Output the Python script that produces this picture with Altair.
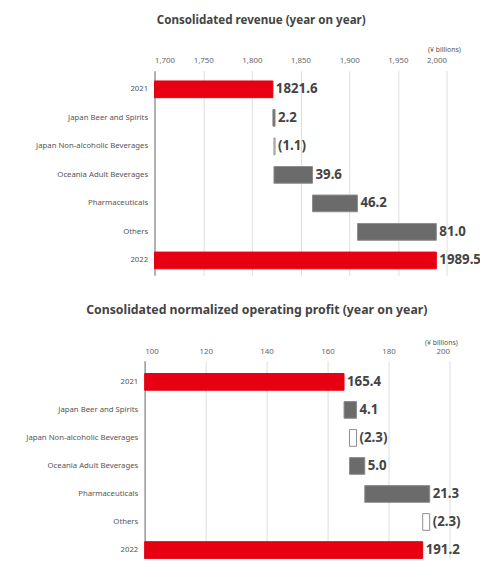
import altair as alt
import pandas as pd

categories = ["2021", "Japan Beer and Spirits", "Japan Non-alcoholic Beverages",
              "Oceania Adult Beverages", "Pharmaceuticals", "Others", "2022"]
rev_values = [1821.6, 2.2, -1.1, 39.6, 46.2, 81.0, 1989.5]
rev_labels = ["1821.6", "2.2", "(1.1)", "39.6", "46.2", "81.0", "1989.5"]
op_values = [165.4, 4.1, -2.3, 5.0, 21.3, -2.3, 191.2]
op_labels = ["165.4", "4.1", "(2.3)", "5.0", "21.3", "(2.3)", "191.2"]
rev_ticks = [1700, 1750, 1800, 1850, 1900, 1950, 2000]
op_ticks = [100, 120, 140, 160, 180, 200]

FONT = "Noto Sans"


def waterfall_df(values, labels, base):
    rows = []
    running = 0.0
    n = len(values)
    for i, (c, v, l) in enumerate(zip(categories, values, labels)):
        if i == 0 or i == n - 1:
            start, end, kind = base, v, "total"
            running = v
        else:
            start = running
            end = running + v
            running = end
            kind = "up" if v >= 0 else "down"
        rows.append(dict(cat=c, start=start, end=end, kind=kind, label=l, lx=max(start, end)))
    return pd.DataFrame(rows)


def panel(df, title, title_size, domain, ticks, width, x_range, height, yscale,
          y_offset, min_extent, unit_x, unit_y, label_pad, title_dx, title_offset, clip):
    yaxis = alt.Axis(labelFontSize=7.9, labelColor="#555", labelFont=FONT, ticks=False,
                     domainColor="#9a9a9a", domainWidth=1.5, labelPadding=7,
                     offset=y_offset, minExtent=min_extent, grid=False, labelLimit=300)
    xaxis = alt.Axis(orient="top", values=ticks, labelExpr="format(datum.value, ',')",
                     domain=False, ticks=False,
                     grid=True, gridColor="#dddddd", gridWidth=1,
                     labelFontSize=8, labelColor="#666", labelFont=FONT,
                     labelPadding=label_pad,
                     titleFontSize=7, titleFont=FONT, titleFontWeight="normal",
                     titleColor="#555", titleX=unit_x, titleY=unit_y,
                     titleAlign="right", titleBaseline="alphabetic", titleAngle=0)
    xscale = alt.Scale(domain=domain, range=x_range, nice=False, zero=False)
    bars = alt.Chart(df).mark_bar(size=17, strokeWidth=1).encode(
        x=alt.X("start:Q", scale=xscale, title="(¥ billions)", axis=xaxis),
        x2="end:Q",
        y=alt.Y("cat:N", sort=categories, title=None, scale=yscale, axis=yaxis),
        color=alt.Color("kind:N", legend=None,
                        scale=alt.Scale(domain=["total", "up", "down"],
                                        range=["#e60012", "#6b6b6b", "#ffffff"])),
        stroke=alt.Stroke("kind:N", legend=None,
                          scale=alt.Scale(domain=["total", "up", "down"],
                                          range=["#e60012", "#8c8c8c", "#8c8c8c"])),
    )
    text = alt.Chart(df).mark_text(align="left", baseline="middle", dx=3, fontSize=13.5,
                                   fontWeight="bold", color="#444", font=FONT,
                                   clip=clip).encode(
        x=alt.X("lx:Q", scale=xscale, title="(¥ billions)", axis=xaxis),
        y=alt.Y("cat:N", sort=categories, title=None, scale=yscale, axis=yaxis),
        text="label:N",
    )
    return alt.layer(bars, text).properties(
        width=width, height=height,
        title=alt.TitleParams(title, fontSize=title_size, font=FONT, fontWeight="bold",
                              color="#444", anchor="middle", frame="group", dx=title_dx,
                              offset=title_offset),
    )


rev_df = waterfall_df(rev_values, rev_labels, rev_ticks[0])
op_df = waterfall_df(op_values, op_labels, op_ticks[0])

top_y = alt.Scale(paddingInner=0, paddingOuter=0.086, align=0.9)
bottom_y = alt.Scale(paddingInner=0.4035, paddingOuter=0.228, align=1)

top = panel(rev_df, "Consolidated revenue (year on year)", 11.8, [1700, 2000], rev_ticks,
            341, [10, 307], 208, top_y, -10, 0, 321, -19, 6, -52, 20, True)
bottom = panel(op_df, "Consolidated normalized operating profit (year on year)", 12.5,
               [100, 200], op_ticks, 310, [0, 310], 201, bottom_y, 0, 139, 318, -17, 5,
               -41, 22, False)

chart = alt.vconcat(top, bottom, spacing=29).resolve_scale(
    x="independent", y="independent", color="independent", stroke="independent"
).properties(
    padding={"left": 0, "top": 2, "right": 0, "bottom": 0}
).configure_view(stroke=None)

chart.save("out.html", embed_options={"renderer": "svg", "actions": False})
